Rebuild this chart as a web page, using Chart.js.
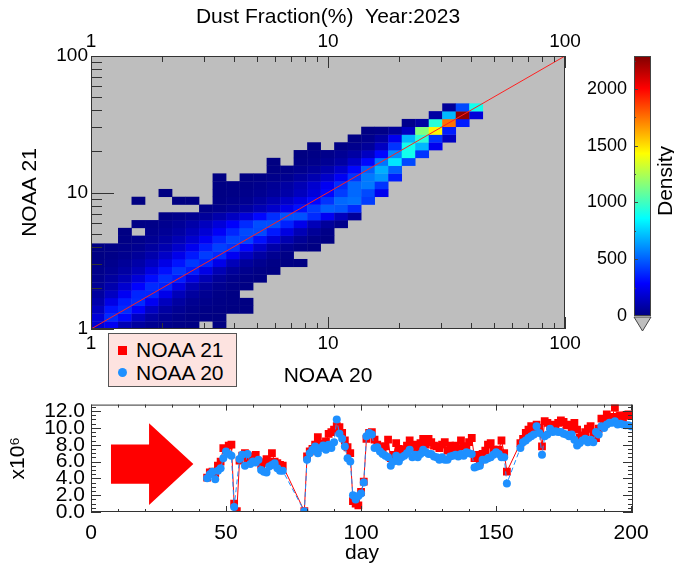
<!DOCTYPE html>
<html>
<head>
<meta charset="utf-8">
<script src="https://cdn.jsdelivr.net/npm/chart.js@4.4.1/dist/chart.umd.min.js"></script>
<style>
  body { margin: 0; background: #fff; width: 674px; height: 566px; overflow: hidden; position: relative; font-family: 'Liberation Sans', Arial, sans-serif; }
  canvas { position: absolute; }
  #top { left: 0; top: 0; }
  #cb { left: 560px; top: 0; }
  #bot { left: 0; top: 386px; }
  #legend { position: absolute; left: 108px; top: 333px; width: 127px; height: 52px; background: #fde3e0; border: 1px solid #555; font-size: 21px; line-height: 23px; }
  #legend div { position: absolute; left: 27px; }
  #legend span { position: absolute; }
</style>
</head>
<body>
<canvas id="top" width="674" height="390"></canvas>
<canvas id="cb" width="114" height="340"></canvas>
<canvas id="bot" width="674" height="180"></canvas>
<div id="legend">
  <span style="left:9px;top:12px;width:9px;height:9px;background:#ff0000"></span>
  <div style="top:4px">NOAA 21</div>
  <span style="left:9px;top:34px;width:9px;height:9px;border-radius:50%;background:#1e90ff"></span>
  <div style="top:27px">NOAA 20</div>
</div>
<script>
const FONT = "'Liberation Sans', Arial, Helvetica, sans-serif";
const FRAME = "#333";

// ---- heat map (2D histogram, log10 bins) ----
const BIN = 0.057;          // bin width in log10 units
const DMAX = 2290;          // top of the colour bar
// each row (bottom to top): [first column, [densities...]], null = no data
const heatRows = [
  [0, [180, 260, 120, 70, 40, 25, 15, 10, null, 5]],
  [0, [200, 380, 300, 150, 80, 45, 25, 15, 10, 5]],
  [0, [150, 330, 380, 280, 150, 80, 45, 25, 15, 10, 5, 5]],
  [0, [100, 230, 350, 380, 260, 140, 75, 40, 25, 15, 10, 5]],
  [0, [70, 150, 260, 370, 370, 240, 130, 70, 40, 20, 10]],
  [0, [50, 100, 180, 290, 380, 360, 230, 120, 65, 35, 20, 10]],
  [0, [35, 70, 120, 200, 310, 390, 350, 220, 120, 60, 30, 15, 8]],
  [0, [25, 45, 80, 130, 220, 320, 400, 350, 230, 120, 60, 30, 15, 8]],
  [0, [15, 30, 55, 90, 150, 230, 330, 410, 360, 240, 130, 65, 35, 15, 8, 5]],
  [0, [10, 20, 35, 60, 100, 160, 240, 340, 420, 380, 260, 150, 80, 40, 15]],
  [0, [8, 15, 25, 40, 70, 110, 170, 250, 350, 430, 400, 290, 170, 90, 40, 15, 8]],
  [2, [15, 25, 45, 75, 120, 180, 260, 360, 440, 430, 320, 200, 110, 50, 20, 8]],
  [2, [10, null, 30, 50, 80, 130, 190, 270, 370, 450, 450, 340, 220, 120, 55, 20]],
  [3, [15, 20, 35, 55, 90, 140, 200, 280, 380, 460, 460, 360, 240, 130, 60, 25]],
  [5, [15, 25, 40, 60, 100, 150, 210, 300, 390, 470, 470, 380, 260, 140, 60]],
  [8, [20, 30, 50, 80, 120, 170, 240, 320, 420, 500, 480, 380]],
  [3, [5, null, null, 5, 5, null, 15, 25, 40, 70, 110, 160, 220, 300, 400, 520, 540, 420]],
  [5, [5, null, null, null, 10, 15, 25, 40, 60, 90, 140, 200, 300, 420, 520, 450, 250]],
  [9, [10, 15, 20, 30, 50, 80, 120, 180, 260, 380, 520, 560, 400]],
  [9, [5, null, 10, 15, 25, 40, 70, 110, 170, 260, 400, 560, 620, 350]],
  [13, [10, 20, 35, 60, 100, 170, 300, 500, 680, 500]],
  [13, [5, null, 15, 25, 45, 80, 160, 300, 550, 800, 450]],
  [15, [5, 15, 25, 45, 80, 150, 300, 600, 900, 400]],
  [16, [5, null, 15, 30, 60, 150, 400, 900, 700, 250]],
  [19, [10, 30, 80, 250, 700, 950, 400, 150]],
  [20, [10, 20, 60, 150, 1150, 1450, 350]],
  [23, [30, 80, 950, 1750, 350]],
  [25, [80, 700, 2250, 200]],
  [26, [60, 450, 900]]
];
const logTicks = [1, 2, 3, 4, 5, 6, 7, 8, 9, 10, 20, 30, 40, 50, 60, 70, 80, 90, 100];
const logMajor = [1, 10, 100];
const oneToOne = [{ x: 1, y: 1 }, { x: 100, y: 100 }];

// ---- colour bar ----
const cbTicks = [0, 500, 1000, 1500, 2000];

// ---- time series ----
const days21 = [43,44,45,46,47,48,49,50,51,52,53,54,55,56,57,58,59,60,61,62,63,64,65,66,67,68,69,70,71,79,80,81,82,83,84,85,86,87,88,89,90,91,92,93,94,95,96,97,98,99,100,101,102,103,104,105,106,107,108,109,110,111,112,113,114,115,116,117,118,119,120,121,122,123,124,125,126,127,128,129,130,131,132,133,134,135,136,137,138,139,140,141,142,143,144,145,146,147,148,149,150,151,152,153,154,159,160,161,162,163,164,165,166,167,168,169,170,171,172,173,174,175,176,177,178,179,180,181,182,183,184,185,186,187,188,189,190,191,192,193,194,195,196,197,198,199,200];
const noaa21 = [4.1,4.7,4.8,4.6,5.5,6.0,7.6,7.4,7.9,8.0,1.0,0.1,6.1,6.7,7.0,6.4,6.2,6.6,6.8,6.0,5.6,5.9,6.3,5.8,7.0,6.0,5.8,5.6,5.5,0.1,6.6,7.2,7.5,8.0,8.9,8.1,7.8,8.4,9.3,9.5,9.8,10.2,10.1,9.4,8.5,7.7,7.0,1.3,1.0,0.8,2.4,3.6,8.7,9.4,9.5,8.6,8.0,7.8,7.2,7.8,8.6,6.4,6.8,8.2,7.5,7.3,7.4,7.9,8.5,7.7,8.0,7.4,8.2,8.7,8.0,8.7,8.3,7.9,7.8,7.6,8.0,8.3,7.3,7.9,7.6,7.9,7.5,8.5,7.8,7.8,8.3,8.8,6.4,6.8,6.0,6.9,7.3,8.0,8.2,7.4,7.2,7.4,8.5,7.0,4.8,8.2,8.7,9.4,9.8,10.2,9.6,10.4,10.0,7.8,10.8,10.6,10.2,10.4,10.1,10.6,10.9,10.7,10.3,10.4,10.1,10.6,9.8,8.8,9.1,9.5,9.9,10.2,9.3,8.8,9.9,11.1,10.8,11.6,11.0,11.3,12.4,11.3,11.5,11.2,11.5,11.6,11.4];
const days20 = [43,44,45,46,47,48,49,50,51,52,53,55,56,57,58,59,60,61,62,63,64,65,66,67,68,69,70,71,79,80,81,82,83,84,85,86,87,88,89,90,91,92,93,94,95,96,97,98,99,100,101,102,103,104,105,106,107,108,109,110,111,112,113,114,115,116,117,118,119,120,121,122,123,124,125,126,127,128,129,130,131,132,133,134,135,136,137,138,139,140,141,142,143,144,145,146,147,148,149,150,151,152,153,154,159,160,161,162,163,164,165,166,167,168,169,170,171,172,173,174,175,176,177,178,179,180,181,182,183,184,185,186,187,188,189,190,191,192,193,194,195,196,197,198,199,200];
const noaa20 = [4.0,4.5,4.8,3.9,4.9,5.2,6.4,7.2,6.9,6.7,0.6,6.3,6.8,5.5,6.9,5.7,6.0,5.9,6.2,5.0,4.8,4.7,5.4,5.6,5.8,5.2,4.9,4.9,0.1,6.2,7.0,7.4,7.8,7.0,7.6,7.9,7.4,8.0,7.6,8.3,11.0,9.3,8.7,7.8,6.4,6.0,2.0,1.5,1.9,2.2,3.5,9.0,9.4,9.2,7.6,7.7,7.2,6.9,6.7,6.5,5.5,6.0,6.7,6.0,6.5,6.7,7.0,7.4,6.5,6.8,6.5,6.9,7.4,7.1,6.9,6.9,6.6,6.5,6.2,6.5,6.2,6.2,6.6,6.7,6.8,6.6,6.9,6.7,7.1,7.0,6.9,5.3,5.4,5.5,6.2,6.2,6.4,6.5,6.8,7.1,6.9,6.5,6.5,3.4,7.6,8.3,8.5,8.8,9.0,9.2,10.2,9.4,6.8,9.0,9.2,9.9,9.5,9.6,9.5,9.5,9.3,9.2,9.0,9.2,8.6,7.9,8.2,8.5,8.7,8.3,8.6,8.3,9.5,9.2,10.2,10.0,10.4,10.6,10.6,10.8,10.4,10.5,10.4,10.3,10.3,10.2];
const dayTicks = [0,10,20,30,40,50,60,70,80,90,100,110,120,130,140,150,160,170,180,190,200];
const valTicks = [0,0.5,1,1.5,2,2.5,3,3.5,4,4.5,5,5.5,6,6.5,7,7.5,8,8.5,9,9.5,10,10.5,11,11.5,12,12.5];
// red arrow (day, value) outline
const arrowX = [7.4, 21.5, 21.5, 37.9, 21.5, 21.5, 7.4];
const arrowY = [8.03, 8.03, 10.56, 5.70, 0.84, 3.37, 3.37];

function jet(v) {
  const t = Math.max(0, Math.min(1, v / DMAX));
  const c = x => Math.round(255 * Math.max(0, Math.min(1, x)));
  return `rgb(${c(1.5 - Math.abs(4 * t - 3))},${c(1.5 - Math.abs(4 * t - 2))},${c(1.5 - Math.abs(4 * t - 1))})`;
}

// inward tick marks + frame
function frameTicks(specs) {
  return {
    id: 'frameTicks',
    afterDatasetsDraw(chart) {
      const ctx = chart.ctx, a = chart.chartArea;
      ctx.save();
      ctx.strokeStyle = FRAME;
      ctx.lineWidth = 1;
      specs.forEach(s => {
        const sc = chart.scales[s.id];
        sc.ticks.forEach(t => {
          const len = s.isMajor(t.value) ? s.major : s.minor;
          const p = Math.round(sc.getPixelForValue(t.value)) + 0.5;
          s.edges.forEach(e => {
            ctx.beginPath();
            if (e === 'bottom') { ctx.moveTo(p, a.bottom); ctx.lineTo(p, a.bottom - len); }
            if (e === 'top') { ctx.moveTo(p, a.top); ctx.lineTo(p, a.top + len); }
            if (e === 'left') { ctx.moveTo(a.left, p); ctx.lineTo(a.left + len, p); }
            if (e === 'right') { ctx.moveTo(a.right, p); ctx.lineTo(a.right - len, p); }
            ctx.stroke();
          });
        });
      });
      ctx.strokeRect(a.left + 0.5, a.top + 0.5, a.right - a.left - 1, a.bottom - a.top - 1);
      ctx.restore();
    }
  };
}

const heatPlugin = {
  id: 'heat',
  beforeDatasetsDraw(chart) {
    const ctx = chart.ctx, a = chart.chartArea, xs = chart.scales.x, ys = chart.scales.y;
    ctx.save();
    ctx.fillStyle = '#bebebe';
    ctx.fillRect(a.left, a.top, a.right - a.left, a.bottom - a.top);
    ctx.beginPath();
    ctx.rect(a.left, a.top, a.right - a.left, a.bottom - a.top);
    ctx.clip();
    heatRows.forEach(([start, vals], r) => {
      const y0 = ys.getPixelForValue(Math.pow(10, r * BIN));
      const y1 = ys.getPixelForValue(Math.pow(10, (r + 1) * BIN));
      vals.forEach((v, k) => {
        if (v === null) return;
        const c = start + k;
        const x0 = xs.getPixelForValue(Math.pow(10, c * BIN));
        const x1 = xs.getPixelForValue(Math.pow(10, (c + 1) * BIN));
        ctx.fillStyle = jet(v);
        ctx.fillRect(x0, y1, x1 - x0 + 0.3, y0 - y1 + 0.3);
      });
    });
    ctx.restore();
  }
};

const tickFont = { family: FONT, size: 19 };
const titleFont = { family: FONT, size: 21 };

function logAxis(pos, extra) {
  return Object.assign({
    type: 'logarithmic', position: pos, min: 1, max: 100,
    afterBuildTicks: s => { s.ticks = logTicks.map(v => ({ value: v })); },
    grid: { display: false, drawTicks: false },
    border: { display: false },
    ticks: { autoSkip: false, maxRotation: 0, color: '#000', font: tickFont, callback: v => logMajor.includes(v) ? String(v) : '' }
  }, extra);
}

new Chart(document.getElementById('top'), {
  type: 'scatter',
  data: { datasets: [{ data: oneToOne, showLine: true, borderColor: '#ff2020', borderWidth: 1, pointRadius: 0 }] },
  options: {
    responsive: false, animation: false,
    layout: { padding: { left: 0, right: 109, top: 0, bottom: 0 } },
    plugins: { legend: { display: false }, tooltip: { enabled: false } },
    scales: {
      x: logAxis('bottom', {
        afterFit: s => { s.height = 61; },
        title: { display: true, text: 'NOAA 20', color: '#000', font: titleFont, padding: { top: 0, bottom: 1 } }
      }),
      x2: logAxis('top', {
        axis: 'x',
        afterFit: s => { s.height = 56; },
        title: { display: true, text: 'Dust Fraction(%)  Year:2023', color: '#000', font: titleFont, padding: { top: 5, bottom: 0 } }
      }),
      y: logAxis('left', {
        afterFit: s => { s.width = 91; },
        title: { display: true, text: 'NOAA 21', color: '#000', font: titleFont, padding: { top: 18, bottom: 0 } }
      })
    }
  },
  plugins: [heatPlugin, frameTicks([
    { id: 'x', edges: ['bottom'], major: 12, minor: 6, isMajor: v => logMajor.includes(v) },
    { id: 'x2', edges: ['top'], major: 12, minor: 6, isMajor: v => logMajor.includes(v) },
    { id: 'y', edges: ['left'], major: 23, minor: 11, isMajor: v => logMajor.includes(v) }
  ])]
});

// colour bar as one floating bar filled with the colour map
const cbPlugin = {
  id: 'cbExtras',
  afterDatasetsDraw(chart) {
    const ctx = chart.ctx, a = chart.chartArea, ys = chart.scales.y;
    ctx.save();
    ctx.strokeStyle = '#444';
    ctx.lineWidth = 1;
    ctx.strokeRect(a.left + 0.5, a.top + 0.5, a.right - a.left - 1, a.bottom - a.top - 1);
    for (let v = 250; v < DMAX; v += 250) {
      const p = Math.round(ys.getPixelForValue(v)) + 0.5;
      ctx.beginPath(); ctx.moveTo(a.left, p); ctx.lineTo(a.left + (v % 500 === 0 ? 4 : 2), p); ctx.stroke();
    }
    const mid = (a.left + a.right) / 2;
    ctx.beginPath();
    ctx.moveTo(a.left, a.bottom + 1); ctx.lineTo(a.right, a.bottom + 1); ctx.lineTo(mid, a.bottom + 15); ctx.closePath();
    ctx.fillStyle = '#bebebe'; ctx.fill(); ctx.stroke();
    ctx.translate(a.right + 15, (a.top + a.bottom) / 2 - 5);
    ctx.rotate(-Math.PI / 2);
    ctx.fillStyle = '#000';
    ctx.font = `21px ${FONT}`;
    ctx.textAlign = 'center'; ctx.textBaseline = 'middle';
    ctx.fillText('Density', 0, 0);
    ctx.restore();
  }
};

new Chart(document.getElementById('cb'), {
  type: 'bar',
  data: {
    labels: ['Density'],
    datasets: [{
      data: [[0, DMAX]], barPercentage: 1, categoryPercentage: 1, borderWidth: 0,
      backgroundColor: c => {
        const a = c.chart.chartArea;
        if (!a) return '#000080';
        const g = c.chart.ctx.createLinearGradient(0, a.bottom, 0, a.top);
        for (let i = 0; i <= 16; i++) g.addColorStop(i / 16, jet(DMAX * i / 16));
        return g;
      }
    }]
  },
  options: {
    responsive: false, animation: false,
    layout: { padding: { left: 0, right: 23, top: 56, bottom: 24 } },
    plugins: { legend: { display: false }, tooltip: { enabled: false } },
    scales: {
      x: { display: false },
      y: {
        min: 0, max: DMAX, position: 'left',
        afterBuildTicks: s => { s.ticks = cbTicks.map(v => ({ value: v })); },
        afterFit: s => { s.width = 74; },
        grid: { display: false, drawTicks: false }, border: { display: false },
        ticks: { color: '#000', font: { family: FONT, size: 18 }, padding: 7, callback: v => String(v) }
      }
    }
  },
  plugins: [cbPlugin]
});

// bottom: daily totals
const arrowPlugin = {
  id: 'arrow',
  beforeDatasetsDraw(chart) {
    const ctx = chart.ctx, xs = chart.scales.x, ys = chart.scales.y;
    ctx.save();
    ctx.fillStyle = '#ff0000';
    ctx.beginPath();
    arrowX.forEach((d, i) => {
      const px = xs.getPixelForValue(d), py = ys.getPixelForValue(arrowY[i]);
      if (i === 0) ctx.moveTo(px, py); else ctx.lineTo(px, py);
    });
    ctx.closePath();
    ctx.fill();
    ctx.restore();
  }
};

new Chart(document.getElementById('bot'), {
  type: 'scatter',
  data: {
    datasets: [
      {
        label: 'NOAA 21', order: 2,
        data: days21.map((d, i) => ({ x: d, y: noaa21[i] })),
        showLine: true, borderColor: '#ff0000', borderWidth: 1,
        pointStyle: 'rect', pointRadius: 5.5, backgroundColor: '#ff0000', pointBorderWidth: 0
      },
      {
        label: 'NOAA 20', order: 1,
        data: days20.map((d, i) => ({ x: d, y: noaa20[i] })),
        showLine: true, borderColor: '#1e90ff', borderWidth: 1, borderDash: [5, 3],
        pointStyle: 'circle', pointRadius: 4, backgroundColor: '#1e90ff', pointBorderWidth: 0
      }
    ]
  },
  options: {
    responsive: false, animation: false,
    layout: { padding: { left: 0, right: 41, top: 5, bottom: 0 } },
    plugins: { legend: { display: false }, tooltip: { enabled: false } },
    scales: {
      x: {
        type: 'linear', min: 0, max: 200.7,
        afterBuildTicks: s => { s.ticks = dayTicks.map(v => ({ value: v })); },
        afterFit: s => { s.height = 54; },
        grid: { display: false, drawTicks: false }, border: { display: false },
        ticks: { autoSkip: false, maxRotation: 0, color: '#000', font: { family: FONT, size: 21 }, padding: 9,
          callback: v => v % 50 === 0 ? String(v) : '' },
        title: { display: true, text: 'day', color: '#000', font: titleFont, padding: { top: 0, bottom: 0 } }
      },
      y: {
        min: 0, max: 12.77,
        afterBuildTicks: s => { s.ticks = valTicks.map(v => ({ value: v })); },
        afterFit: s => { s.width = 91; },
        grid: { display: false, drawTicks: false }, border: { display: false },
        ticks: { autoSkip: false, color: '#000', font: { family: FONT, size: 21 }, padding: 6,
          callback: v => v % 2 === 0 ? v.toFixed(1) : '' },
        title: { display: true, text: 'x10⁶', color: '#000', font: titleFont, padding: { top: 6, bottom: 0 } }
      }
    }
  },
  plugins: [arrowPlugin, frameTicks([
    { id: 'x', edges: ['bottom', 'top'], major: 6, minor: 3, isMajor: v => v % 50 === 0 },
    { id: 'y', edges: ['left', 'right'], major: 10, minor: 5, isMajor: v => v % 2 === 0 }
  ])]
});
</script>
</body>
</html>
